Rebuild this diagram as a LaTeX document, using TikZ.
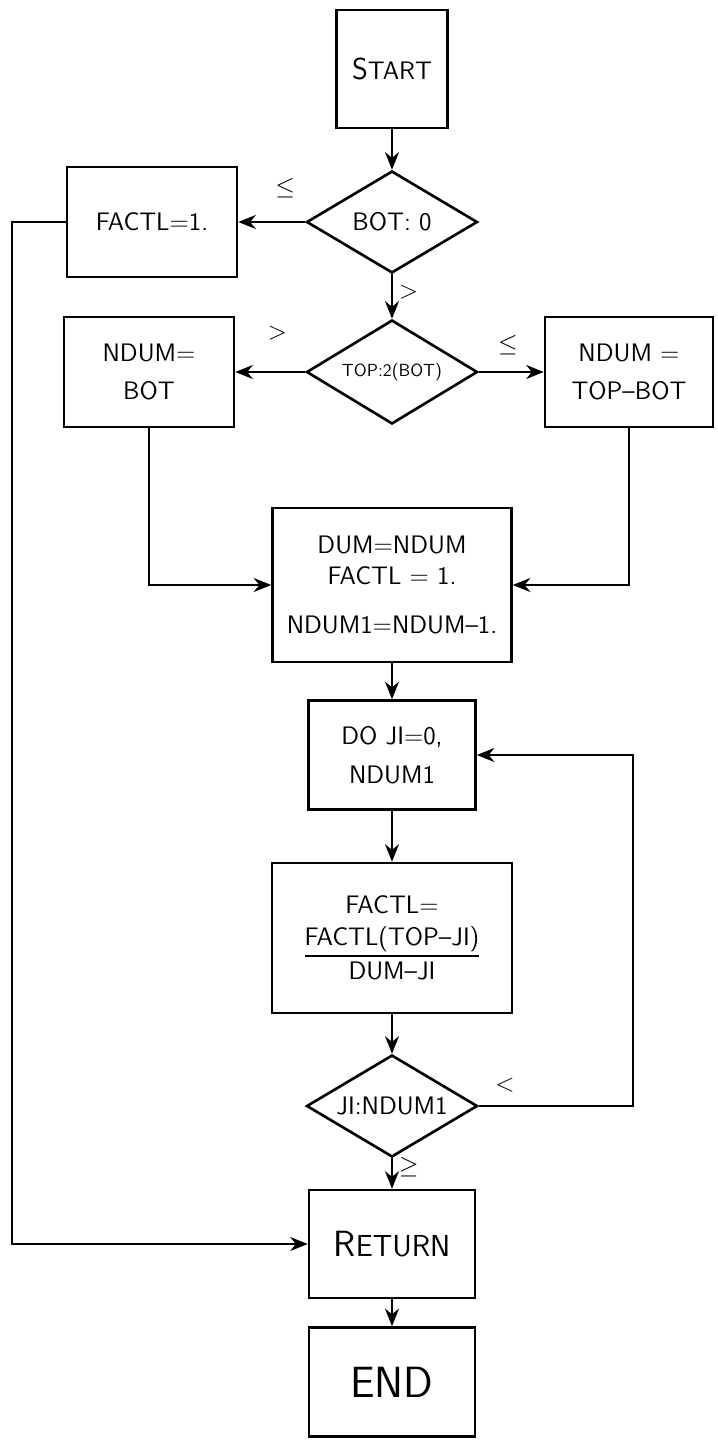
\documentclass[tikz,border=0pt]{standalone}
\usepackage{amsmath, amssymb}
\usepackage{tikz}
\usetikzlibrary{
  % enables the diamonds
  shapes.geometric,%
  % enables bigger arrows
  arrows.meta,%
  positioning,
  calc
}
\tikzset{>={Stealth[length=10pt, width=8pt]}}
\tikzset{font=\sffamily\Large}
\tikzset{box/.style={draw, line width=1.5pt, align=center,
    minimum width=3.4cm, minimum height=2.2cm, inner sep=2pt}}
\tikzset{test/.style={draw, diamond, line width=1.5pt, aspect=1.7,
    minimum width=3.42cm, minimum height=2.04cm, inner sep=0pt}}
\tikzset{flow/.style={->, line width=1.2pt}}

\begin{document}
\begin{tikzpicture}[x=0.02cm, y=-0.02cm]
              \useasboundingbox (0, 0) rectangle (717, 1443); %
              \node[box, minimum width=2.22cm, minimum height=2.36cm] (start) at (392, 69) {{\LARGE S}TART}; %
              \node[test] (bot) at (392, 222) {BOT: 0}; %
              \node[box] (factl) at (152, 222) {FACTL=1.}; %
              \node[test, minimum height=2.08cm, font=\sffamily\normalsize] (top) at (392, 372) {TOP:2(BOT)}; %
              \node[box] (ndumb) at (149, 372) {NDUM=\\[4pt]BOT}; %
              \node[box, minimum width=3.36cm] (ndumt) at (629, 372) {NDUM =\\[4pt]TOP--BOT}; %
              \node[box, minimum width=4.78cm, minimum height=3.08cm] (dum) at (392, 585) {DUM=NDUM\\FACTL = 1.\\[10pt]NDUM1=NDUM--1.}; %
              \node[box, minimum width=3.34cm, minimum height=2.18cm] (do) at (392, 755) {DO JI=0,\\[4pt]NDUM1}; %
              \node[box, minimum width=4.8cm, minimum height=3cm] (fact) at (392, 938) {FACTL=\\[6pt]$\dfrac{\text{FACTL(TOP--JI)}}{\text{DUM--JI}}$}; %
              \node[test, font=\sffamily\Large] (ji) at (392, 1106) {JI:NDUM1}; %
              \node[box, minimum width=3.32cm, minimum height=2.16cm, font=\sffamily\LARGE] (ret) at (392, 1244) {{\huge R}ETURN}; %
              \node[box, minimum width=3.32cm, minimum height=2.18cm, font=\sffamily\Huge] (end) at (392, 1382) {END}; %
              \coordinate (side) at (12, 222); %
              \coordinate (loop) at (633, 1106); %
              \draw[flow] (start) -- (bot); %
              \draw[flow] (bot) -- node[above=10pt, pos=0.3]{$\leq$} (factl); %
              \draw[flow] (bot) -- node[right, pos=0.4]{$>$} (top); %
              \draw[flow] (top) -- node[above=14pt, pos=0.4]{$>$} (ndumb); %
              \draw[flow] (top) -- node[above=6pt, pos=0.45]{$\leq$} (ndumt); %
              \draw[flow] (ndumb) |- (dum); %
              \draw[flow] (ndumt) |- (dum); %
              \draw[flow] (dum) -- (do); %
              \draw[flow] (do) -- (fact); %
              \draw[flow] (fact) -- (ji); %
              \draw[flow] (ji.east) -- node[above=4pt, pos=0.17]{$<$} (loop) |- (do.east); %
              \draw[flow] (ji) -- node[right, pos=0.3]{$\geq$} (ret); %
              \draw[flow] (ret) -- (end); %
              \draw[flow] (factl.west) -- (side) |- (ret.west); %
\end{tikzpicture}
\end{document}
